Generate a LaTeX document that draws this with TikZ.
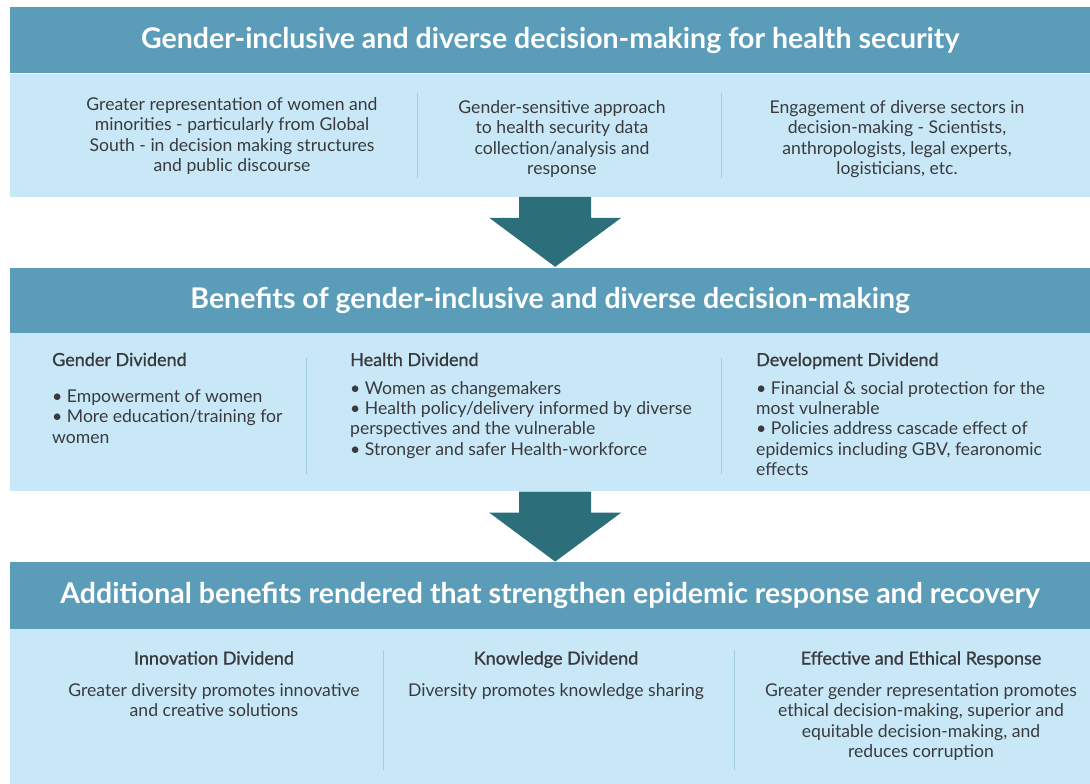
\documentclass[tikz,border=0pt]{standalone}
\usepackage{fontspec}
\setmainfont{Lato}
\newfontfamily\coltitlefont[FakeBold=1]{Lato}
\usetikzlibrary{positioning,calc}

\definecolor{headblue}{RGB}{91,157,184}
\definecolor{bodyblue}{RGB}{200,232,248}
\definecolor{arrowteal}{RGB}{44,110,122}
\definecolor{sepblue}{RGB}{165,205,226}
\definecolor{textgrey}{RGB}{58,58,62}

% block arrow hanging below a coordinate
\newcommand{\downblock}[1]{%
  \fill[arrowteal] ($(#1)+(-36,0)$) -- ($(#1)+(-36,21)$) -- ($(#1)+(-66,21)$)
    -- ($(#1)+(0,70)$) -- ($(#1)+(66,21)$) -- ($(#1)+(36,21)$) -- ($(#1)+(36,0)$) -- cycle;}

\tikzset{
  headbar/.style={fill=headblue, text=white, minimum width=1080pt, inner sep=0pt,
    font=\fontsize{28.5}{32}\selectfont\bfseries},
  bodybar/.style={fill=bodyblue, minimum width=1080pt, inner sep=0pt},
  coltext/.style={text=textgrey, inner sep=0pt, font=\fontsize{17.6}{20.3}\selectfont},
  colc/.style={coltext, align=center, anchor=north},
  coll/.style={coltext, align=left, anchor=north west},
  coltitle/.style={text=textgrey, inner sep=0pt, font=\fontsize{18}{20}\selectfont\coltitlefont},
  sepline/.style={draw=sepblue, line width=1pt}
}

\begin{document}
\begin{tikzpicture}[x=1pt,y=-1pt]
   \useasboundingbox (0,0) rectangle (1090,784);
   % three bands
   \node[headbar, minimum height=66pt, anchor=north west] (head1) at (10,7)
     {Gender-inclusive and diverse decision-making for health security};
   \node[bodybar, minimum height=123pt, below=0pt of head1] (body1) {};
   \node[headbar, minimum height=65pt, below=71pt of body1] (head2)
     {Benefits of gender-inclusive and diverse decision-making};
   \node[bodybar, minimum height=158pt, below=0pt of head2] (body2) {};
   \node[headbar, minimum height=67pt, below=70pt of body2] (head3)
     {Additional benefits rendered that strengthen epidemic response and recovery};
   \node[bodybar, minimum height=157pt, below=0pt of head3] (body3) {};

   % arrows between bands
   \coordinate (arr1) at ($(body1.south)+(5,0)$);
   \coordinate (arr2) at ($(body2.south)+(5,0)$);
   \downblock{arr1}
   \downblock{arr2}

   % band 1
   \node[colc] (rep) at (232,97.5) {Greater representation of women and\\minorities - particularly from Global\\South - in decision making structures\\and public discourse};
   \node[colc] (data) at (562,100.5) {Gender-sensitive approach\\to health security data\\collection/analysis and\\response};
   \node[colc] (sect) at (897,100.5) {Engagement of diverse sectors in\\decision-making - Scientists,\\anthropologists, legal experts,\\logisticians, etc.};
   \draw[sepline] (417,93) -- (417,178);
   \draw[sepline] (721,93) -- (721,178);

   % band 2
   \node[coltitle, anchor=base west] (gdiv) at (52,366) {Gender Dividend};
   \node[coll] (gtxt) at (52,389.5) {• Empowerment of women\\• More education/training for\\women};
   \node[coltitle, anchor=base west] (hdiv) at (350,366) {Health Dividend};
   \node[coll] (htxt) at (350,381) {• Women as changemakers\\• Health policy/delivery informed by diverse\\perspectives and the vulnerable\\• Stronger and safer Health-workforce};
   \node[coltitle, anchor=base west] (ddiv) at (756,366) {Development Dividend};
   \node[coll] (dtxt) at (756,381) {• Financial \& social protection for the\\most vulnerable\\• Policies address cascade effect of\\epidemics including GBV, fearonomic\\effects};
   \draw[sepline] (306,358) -- (306,474);
   \draw[sepline] (721,358) -- (721,474);

   % band 3
   \node[coltitle, anchor=base] (idiv) at (214,664.5) {Innovation Dividend};
   \node[colc] (itxt) at (214,683.5) {Greater diversity promotes innovative\\and creative solutions};
   \node[coltitle, anchor=base] (kdiv) at (556,664.5) {Knowledge Dividend};
   \node[colc] (ktxt) at (556,683.5) {Diversity promotes knowledge sharing};
   \node[coltitle, anchor=base] (ediv) at (921,664.5) {Effective and Ethical Response};
   \node[colc] (etxt) at (921,683.5) {Greater gender representation promotes\\ethical decision-making, superior and\\equitable decision-making, and\\reduces corruption};
   \draw[sepline] (383,650) -- (383,770);
   \draw[sepline] (734,650) -- (734,770);
\end{tikzpicture}
\end{document}
